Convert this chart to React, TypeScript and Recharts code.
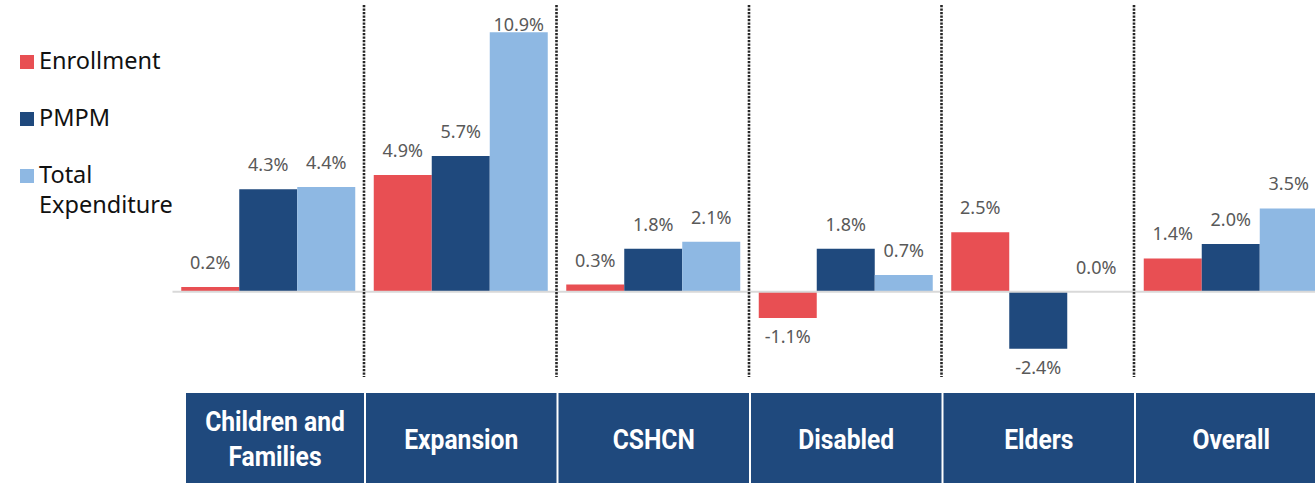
import { BarChart, Bar, XAxis, YAxis, ReferenceLine, LabelList, Legend } from 'recharts';

const CATEGORIES = ['Children and\nFamilies', 'Expansion', 'CSHCN', 'Disabled', 'Elders', 'Overall'];
const ENROLLMENT = [0.2, 4.9, 0.3, -1.1, 2.5, 1.4];
const PMPM = [4.3, 5.7, 1.8, 1.8, -2.4, 2.0];
const TOTAL = [4.4, 10.9, 2.1, 0.7, 0.0, 3.5];

const SERIES = [
  { key: 'enrollment', name: 'Enrollment', color: '#E84F53' },
  { key: 'pmpm', name: 'PMPM', color: '#1F497D' },
  { key: 'total', name: 'Total Expenditure', color: '#8EB8E3' },
];

const data = CATEGORIES.map((c, i) => ({
  cat: c,
  enrollment: ENROLLMENT[i],
  pmpm: PMPM[i],
  total: TOTAL[i],
}));

const CHART_W = 1330;
const CHART_H = 483;
const MARGIN = { top: 6.1, right: 2.5, bottom: 0, left: 172.5 };
const AXIS_H = 96.1;
const PLOT_W = CHART_W - MARGIN.left - MARGIN.right;
const BAND = PLOT_W / CATEGORIES.length;
const NAVY = '#1F497D';
const LABEL_FONT = '"Noto Sans", "Open Sans", sans-serif';
const CAT_FONT = 'Roboto, "Noto Sans", sans-serif';

const fmtPct = (v: number) => `${Number(v).toFixed(1)}%`;

// value label: above positive bars (clamped to plot top), below negative bars
const ValueLabel = (props: any) => {
  const { x, y, width, height, value } = props;
  const top = Math.min(y, y + height);
  const bottom = Math.max(y, y + height);
  const by = value >= 0 ? Math.max(top - 18, 31) : bottom + 25;
  return (
    <text
      x={x + width / 2}
      y={by}
      textAnchor="middle"
      fontFamily={LABEL_FONT}
      fontSize={18}
      fill="#595959"
    >
      {fmtPct(value)}
    </text>
  );
};

// category header box + dotted divider to the right of the group
const CategoryTick = (props: any) => {
  const { x, payload, index } = props;
  const lines = String(payload.value).split('\n');
  const left = x - BAND / 2 + (index === 0 ? 13.5 : 1);
  const right = x + BAND / 2 - 1;
  const cx = (left + right) / 2;
  const cy = 439;
  const lh = 35;
  const last = index === CATEGORIES.length - 1;
  return (
    <g>
      <rect x={left} y={393} width={right - left} height={95} fill={NAVY} />
      <text
        transform={`translate(${cx},0) scale(0.88,1)`}
        textAnchor="middle"
        fontFamily={CAT_FONT}
        fontWeight={700}
        fontSize={28}
        fill="#fff"
      >
        {lines.map((l, i) => (
          <tspan key={i} x={0} y={cy + 10 + (i - (lines.length - 1) / 2) * lh}>
            {l}
          </tspan>
        ))}
      </text>
      {!last && (
        <line
          x1={x + BAND / 2 - 1}
          x2={x + BAND / 2 - 1}
          y1={5}
          y2={377}
          stroke="#262626"
          strokeWidth={2.6}
          strokeDasharray="2.2 1.3"
        />
      )}
    </g>
  );
};

const LegendBox = () => (
  <div style={{ fontFamily: LABEL_FONT, fontSize: 23.5, lineHeight: '30px', color: '#111' }}>
    {SERIES.map((s) => (
      <div key={s.key} style={{ display: 'flex', alignItems: 'flex-start', marginBottom: 27 }}>
        <span style={{ width: 14, height: 14, background: s.color, marginTop: 10, marginRight: 5, flex: 'none' }} />
        <span style={{ width: 140 }}>{s.name}</span>
      </div>
    ))}
  </div>
);

// zero-valued bars still need their rect so the label gets drawn
const keepZero = (v: number) => (v === 0 ? 0.01 : 0);

export default function App() {
  return (
    <div style={{ position: 'absolute', left: 0, top: 0, width: 1315, height: 483, overflow: 'hidden', background: '#fff' }}>
      <BarChart
        width={CHART_W}
        height={CHART_H}
        data={data}
        margin={MARGIN}
        barCategoryGap={8.75}
        barGap={0}
      >
        <XAxis
          dataKey="cat"
          height={AXIS_H}
          axisLine={false}
          tickLine={false}
          interval={0}
          tick={<CategoryTick />}
        />
        <YAxis hide domain={[-4, 12]} allowDataOverflow />
        <ReferenceLine y={0} stroke="#D9D9D9" strokeWidth={2} />
        <Legend
          layout="vertical"
          align="center"
          verticalAlign="middle"
          wrapperStyle={{ left: 20, top: 45, width: 170 }}
          content={<LegendBox />}
        />
        {SERIES.map((s) => (
          <Bar
            key={s.key}
            dataKey={s.key}
            name={s.name}
            fill={s.color}
            minPointSize={keepZero}
            isAnimationActive={false}
          >
            <LabelList dataKey={s.key} content={<ValueLabel />} />
          </Bar>
        ))}
      </BarChart>
    </div>
  );
}
